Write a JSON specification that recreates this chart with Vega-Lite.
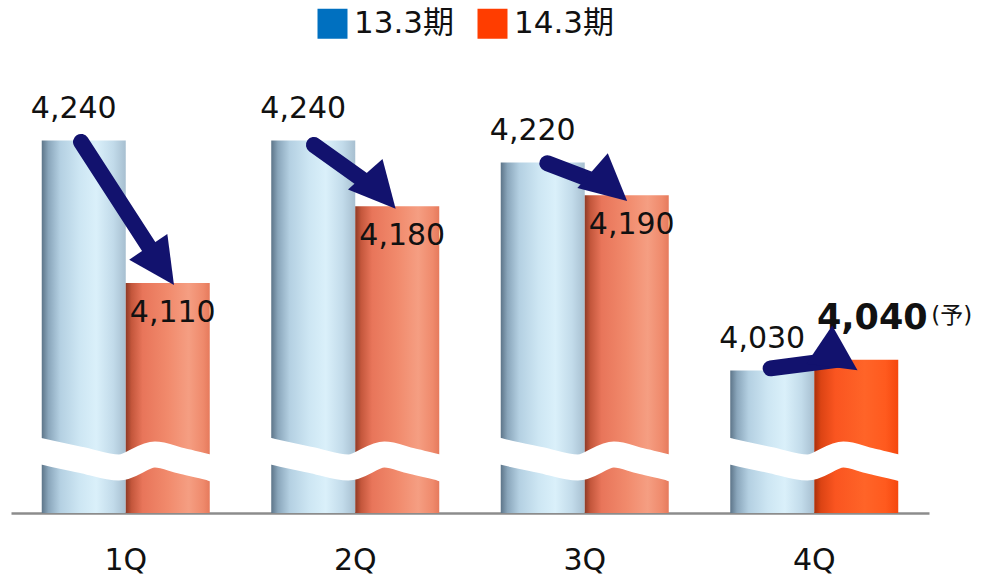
{
  "$schema": "https://vega.github.io/schema/vega-lite/v6.json",
  "width": 918,
  "height": 453,
  "autosize": {"type": "none"},
  "padding": {"left": 11, "top": 60, "right": 57, "bottom": 62},
  "background": "white",
  "config": {
    "view": {"stroke": null},
    "font": "DejaVu Sans",
    "legend": {
      "orient": "none",
      "legendX": 306,
      "legendY": -52,
      "direction": "horizontal",
      "title": null,
      "symbolType": "square",
      "symbolSize": 900,
      "symbolStrokeWidth": 0,
      "labelFontSize": 31,
      "labelFont": "DejaVu Sans, Noto Sans CJK JP",
      "labelColor": "#111111",
      "labelOffset": 6,
      "columnPadding": 22,
      "labelLimit": 300
    }
  },
  "datasets": {
    "bars": [
      {"quarter": "1Q", "series": "13.3期", "value": 4240},
      {"quarter": "1Q", "series": "14.3期", "value": 4110},
      {"quarter": "2Q", "series": "13.3期", "value": 4240},
      {"quarter": "2Q", "series": "14.3期", "value": 4180},
      {"quarter": "3Q", "series": "13.3期", "value": 4220},
      {"quarter": "3Q", "series": "14.3期", "value": 4190},
      {"quarter": "4Q", "series": "13.3期", "value": 4030},
      {"quarter": "4Q", "series": "14.3期", "value": 4040}
    ],
    "wave": [
      {"wx": 0.099, "wv": 3958}, {"wx": 0.134, "wv": 3956.2}, {"wx": 0.308, "wv": 3948.4}, {"wx": 0.470, "wv": 3941.5},
      {"wx": 0.627, "wv": 3953.4}, {"wx": 0.744, "wv": 3947.5}, {"wx": 0.866, "wv": 3941.5}, {"wx": 0.901, "wv": 3939.5},
      {"wx": 1.099, "wv": 3958}, {"wx": 1.134, "wv": 3956.2}, {"wx": 1.308, "wv": 3948.4}, {"wx": 1.470, "wv": 3941.5},
      {"wx": 1.627, "wv": 3953.4}, {"wx": 1.744, "wv": 3947.5}, {"wx": 1.866, "wv": 3941.5}, {"wx": 1.901, "wv": 3939.5},
      {"wx": 2.099, "wv": 3958}, {"wx": 2.134, "wv": 3956.2}, {"wx": 2.308, "wv": 3948.4}, {"wx": 2.470, "wv": 3941.5},
      {"wx": 2.627, "wv": 3953.4}, {"wx": 2.744, "wv": 3947.5}, {"wx": 2.866, "wv": 3941.5}, {"wx": 2.901, "wv": 3939.5},
      {"wx": 3.099, "wv": 3958}, {"wx": 3.134, "wv": 3956.2}, {"wx": 3.308, "wv": 3948.4}, {"wx": 3.470, "wv": 3941.5},
      {"wx": 3.627, "wv": 3953.4}, {"wx": 3.744, "wv": 3947.5}, {"wx": 3.866, "wv": 3941.5}, {"wx": 3.901, "wv": 3939.5}
    ],
    "arrows": [
      {"quarter": "1Q", "sx": 0.305, "sy": 4238.8, "ex": 0.662, "ey": 4123.2},
      {"quarter": "2Q", "sx": 1.320, "sy": 4236.0, "ex": 1.619, "ey": 4191.3},
      {"quarter": "3Q", "sx": 2.337, "sy": 4219.3, "ex": 2.620, "ey": 4196.8},
      {"quarter": "4Q", "sx": 3.310, "sy": 4032.1, "ex": 3.617, "ey": 4040.4}
    ]
  },
  "resolve": {"scale": {"x": "independent"}, "axis": {"x": "independent"}},
  "layer": [
    {
      "data": {"name": "bars"},
      "encoding": {
        "x": {
          "field": "quarter", "type": "nominal", "sort": null,
          "scale": {"paddingInner": 0.268, "paddingOuter": 0.134},
          "axis": {
            "title": null, "labelAngle": 0, "labelFontSize": 30, "labelFont": "DejaVu Sans",
            "labelColor": "#111111", "ticks": false, "domainColor": "#8C8C8C", "domainWidth": 2.5,
            "labelPadding": 32, "grid": false
          }
        },
        "xOffset": {"field": "series", "type": "nominal"},
        "y": {
          "field": "value", "type": "quantitative",
          "scale": {"domain": [3900, 4313.6], "zero": false, "nice": false},
          "axis": null
        }
      },
      "layer": [
        {
          "mark": {"type": "bar"},
          "encoding": {
            "y2": {"field": "value"},
            "color": {
              "field": "series", "type": "nominal",
              "scale": {"domain": ["13.3期", "14.3期"], "range": ["#0070C0", "#FF3D00"]}
            }
          }
        },
        {
          "transform": [{"filter": "datum.series === '13.3期'"}],
          "mark": {
            "type": "bar",
            "fill": {
              "gradient": "linear", "x1": 0, "y1": 0, "x2": 1, "y2": 0,
              "stops": [
                {"offset": 0, "color": "#5D7589"},
                {"offset": 0.08, "color": "#8AA6BB"},
                {"offset": 0.22, "color": "#B4D0E2"},
                {"offset": 0.45, "color": "#CDE6F3"},
                {"offset": 0.65, "color": "#DAF0FA"},
                {"offset": 0.85, "color": "#C2DBEA"},
                {"offset": 1, "color": "#A7BFD0"}
              ]
            }
          },
          "encoding": {"y2": {"datum": 3900}}
        },
        {
          "transform": [{"filter": "datum.series === '14.3期' && datum.quarter !== '4Q'"}],
          "mark": {
            "type": "bar",
            "fill": {
              "gradient": "linear", "x1": 0, "y1": 0, "x2": 1, "y2": 0,
              "stops": [
                {"offset": 0, "color": "#8E3A26"},
                {"offset": 0.07, "color": "#C4573C"},
                {"offset": 0.2, "color": "#E8755A"},
                {"offset": 0.5, "color": "#F18A6C"},
                {"offset": 0.75, "color": "#F59E82"},
                {"offset": 0.92, "color": "#EF8A6C"},
                {"offset": 1, "color": "#E67A5C"}
              ]
            }
          },
          "encoding": {"y2": {"datum": 3900}}
        },
        {
          "transform": [{"filter": "datum.series === '14.3期' && datum.quarter === '4Q'"}],
          "mark": {
            "type": "bar",
            "fill": {
              "gradient": "linear", "x1": 0, "y1": 0, "x2": 1, "y2": 0,
              "stops": [
                {"offset": 0, "color": "#A8300C"},
                {"offset": 0.08, "color": "#DC4414"},
                {"offset": 0.25, "color": "#FA5520"},
                {"offset": 0.6, "color": "#FF6428"},
                {"offset": 0.85, "color": "#FF5A1E"},
                {"offset": 1, "color": "#F5470E"}
              ]
            }
          },
          "encoding": {"y2": {"datum": 3900}}
        },
        {
          "transform": [{"filter": "datum.series === '13.3期'"}],
          "mark": {"type": "text", "fontSize": 30, "font": "DejaVu Sans", "color": "#111111", "baseline": "alphabetic", "dx": -10, "dy": -23},
          "encoding": {"text": {"field": "value", "type": "quantitative", "format": ","}}
        },
        {
          "transform": [{"filter": "datum.series === '14.3期' && datum.quarter !== '4Q'"}],
          "mark": {"type": "text", "fontSize": 30, "font": "DejaVu Sans", "color": "#111111", "baseline": "alphabetic", "dx": 5, "dy": 39},
          "encoding": {"text": {"field": "value", "type": "quantitative", "format": ","}}
        },
        {
          "transform": [{"filter": "datum.series === '14.3期' && datum.quarter === '4Q'"}],
          "mark": {"type": "text", "fontSize": 35, "fontWeight": "bold", "font": "DejaVu Sans", "color": "#111111", "baseline": "alphabetic", "dx": 16, "dy": -31},
          "encoding": {"text": {"field": "value", "type": "quantitative", "format": ","}}
        },
        {
          "transform": [{"filter": "datum.series === '14.3期' && datum.quarter === '4Q'"}],
          "mark": {"type": "text", "text": "(予)", "fontSize": 23, "font": "DejaVu Sans, Noto Sans CJK JP", "color": "#111111", "align": "left", "baseline": "alphabetic", "dx": 75, "dy": -37}
        }
      ]
    },
    {
      "layer": [
        {
          "data": {"name": "wave"},
          "mark": {"type": "line", "interpolate": "monotone", "stroke": "white", "strokeWidth": 26, "strokeCap": "butt"},
          "encoding": {
            "x": {"field": "wx", "type": "quantitative", "scale": {"domain": [0, 4], "nice": false, "zero": false}, "axis": null},
            "y": {"field": "wv", "type": "quantitative"}
          }
        },
        {
          "data": {"name": "arrows"},
          "mark": {"type": "rule", "strokeWidth": 16, "strokeCap": "round", "color": "#12126E"},
          "encoding": {
            "x": {"field": "sx", "type": "quantitative", "scale": {"domain": [0, 4], "nice": false, "zero": false}, "axis": null},
            "y": {"field": "sy", "type": "quantitative"},
            "x2": {"field": "ex"},
            "y2": {"field": "ey"}
          }
        },
        {
          "data": {"name": "arrows"},
          "mark": {"type": "point", "shape": "M0.86,0L-1.14,-1L-1.14,1Z", "filled": true, "size": 2116, "color": "#12126E", "opacity": 1, "strokeWidth": 0},
          "encoding": {
            "x": {"field": "ex", "type": "quantitative"},
            "y": {"field": "ey", "type": "quantitative"},
            "angle": {
              "field": "quarter", "type": "nominal",
              "scale": {"domain": ["1Q", "2Q", "3Q", "4Q"], "range": [56, 34, 21, -7]},
              "legend": null
            }
          }
        }
      ]
    }
  ]
}
